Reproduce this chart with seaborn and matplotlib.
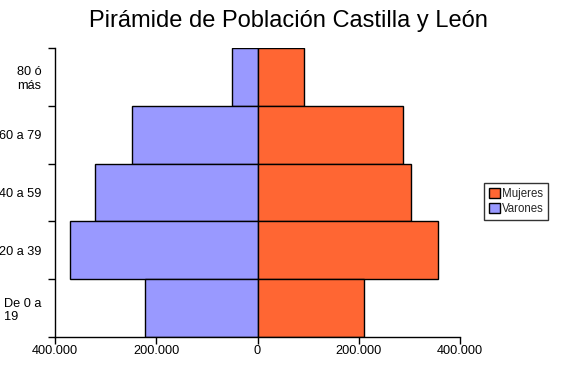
import numpy as np
import pandas as pd
import seaborn as sns
import matplotlib
matplotlib.use('Agg')
import matplotlib.pyplot as plt
from matplotlib.ticker import FuncFormatter, FixedLocator
from matplotlib.patches import Patch

# Data (people)
grupos = ['80 ó\nmás', '60 a 79', '40 a 59', '20 a 39', 'De 0 a\n19']
varones = [51000, 247000, 320000, 370000, 222000]
mujeres = [91000, 287000, 304000, 356000, 210000]
x_ticks = [-400000, -200000, 0, 200000, 400000]

color_mujeres = '#FF6633'
color_varones = '#9999FF'

sns.set_style('white')
plt.rcParams['font.family'] = ['Liberation Sans', 'DejaVu Sans']

fig = plt.figure(figsize=(5.67, 3.67), dpi=100)
ax = fig.add_axes([55 / 567, 30 / 367, 405 / 567, 289 / 367])

df = pd.DataFrame({'grupo': grupos,
                   'varones': [-v for v in varones],
                   'mujeres': mujeres})

sns.barplot(data=df, x='varones', y='grupo', orient='h', color=color_varones,
            width=1, edgecolor='black', linewidth=1, saturation=1, ax=ax)
sns.barplot(data=df, x='mujeres', y='grupo', orient='h', color=color_mujeres,
            width=1, edgecolor='black', linewidth=1, saturation=1, ax=ax)

ax.set_xlim(-400000, 400000)
ax.set_ylim(len(grupos) - 0.5, -0.5)
ax.set_xlabel('')
ax.set_ylabel('')

# x ticks with thousands dot, absolute values
ax.xaxis.set_major_locator(FixedLocator(x_ticks))
ax.xaxis.set_major_formatter(FuncFormatter(
    lambda v, p: f'{abs(int(v)):,}'.replace(',', '.')))
ax.tick_params(axis='x', which='major', direction='out', length=5, width=1,
               color='black', labelsize=9.2, labelcolor='black', pad=1, bottom=True)

# y labels centered in bands, ticks at band edges
ax.set_yticks(range(len(grupos)))
ax.set_yticklabels(grupos, multialignment='left')
ax.tick_params(axis='y', which='major', length=0, labelsize=9.2,
               labelcolor='black', pad=9.5)
ax.yaxis.set_minor_locator(FixedLocator(np.arange(-0.5, len(grupos), 1.0)))
ax.tick_params(axis='y', which='minor', direction='out', length=5, width=1,
               color='black', left=True)

for s in ['top', 'right']:
    ax.spines[s].set_visible(False)
for s in ['left', 'bottom']:
    ax.spines[s].set_color('black')
    ax.spines[s].set_linewidth(1)

handles = [Patch(facecolor=color_mujeres, edgecolor='black', label='Mujeres'),
           Patch(facecolor=color_varones, edgecolor='black', label='Varones')]
leg = fig.legend(handles=handles, loc='upper left',
                 bbox_to_anchor=(484 / 567, 1 - 183 / 367),
                 fontsize=8.3, frameon=True, fancybox=False, edgecolor='black',
                 handlelength=0.95, handleheight=0.95, handletextpad=0.2,
                 borderpad=0.4, labelspacing=0.3, borderaxespad=0)
leg.get_frame().set_linewidth(1)

fig.text(288 / 567, 1 - 21 / 367, 'Pirámide de Población Castilla y León',
         ha='center', va='center', fontsize=17, color='black')

fig.savefig('out.png', dpi=100)
